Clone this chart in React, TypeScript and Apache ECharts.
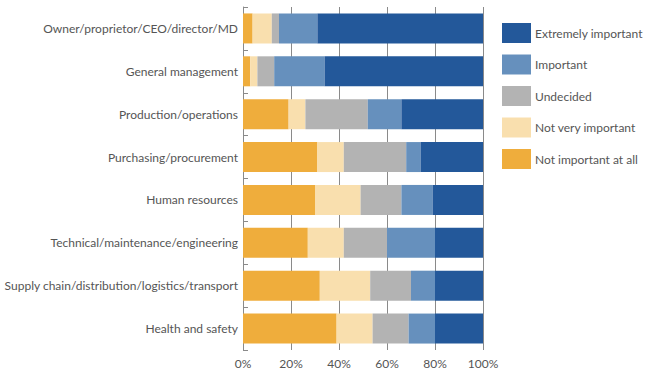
import React, { useEffect, useRef } from "react";
import * as echarts from "echarts";

const categories = [
  "Owner/proprietor/CEO/director/MD",
  "General management",
  "Production/operations",
  "Purchasing/procurement",
  "Human resources",
  "Technical/maintenance/engineering",
  "Supply chain/distribution/logistics/transport",
  "Health and safety",
];

const notImportantAtAll = [4, 3, 19, 31, 30, 27, 32, 39];
const notVeryImportant = [8, 3, 7, 11, 19, 15, 21, 15];
const undecided = [3, 7, 26, 26, 17, 18, 17, 15];
const important = [16, 21, 14, 6, 13, 20, 10, 11];
const extremelyImportant = [69, 66, 34, 26, 21, 20, 20, 20];

const xTicks = [0, 20, 40, 60, 80, 100];

const FONT = "Lato";

export default function App() {
  const ref = useRef<HTMLDivElement>(null);
  useEffect(() => {
    const chart = echarts.init(ref.current!, null, { renderer: "svg" });
    const seriesDefs = [
      { name: "Not important at all", data: notImportantAtAll, color: "#efad3c" },
      { name: "Not very important", data: notVeryImportant, color: "#f9dfae" },
      { name: "Undecided", data: undecided, color: "#b3b3b3" },
      { name: "Important", data: important, color: "#6690bd" },
      { name: "Extremely important", data: extremelyImportant, color: "#23589a" },
    ];
    chart.setOption({
      animation: false,
      textStyle: { fontFamily: FONT },
      grid: {
        left: 243,
        right: 167,
        top: 7,
        bottom: 20,
        containLabel: false,
        outerBoundsMode: "none",
      },
      legend: {
        orient: "vertical",
        left: 502,
        top: 23,
        padding: 0,
        itemWidth: 29,
        itemHeight: 20,
        itemGap: 11.5,
        icon: "rect",
        data: seriesDefs.map((s) => s.name).reverse(),
        textStyle: { fontFamily: FONT, fontSize: 12, color: "#555", padding: [0, 0, 0, -1] },
      },
      xAxis: {
        type: "value",
        min: 0,
        max: 100,
        interval: 20,
        axisLine: { show: false },
        axisTick: { show: false },
        axisLabel: {
          formatter: (v: number) => (xTicks.includes(v) ? v + "%" : ""),
          color: "#555",
          fontFamily: FONT,
          fontSize: 12,
          margin: 7,
        },
        splitLine: { show: true, lineStyle: { color: "#8a8a8a", width: 1 } },
      },
      yAxis: {
        type: "category",
        data: categories,
        inverse: true,
        axisLine: { show: true, lineStyle: { color: "#8a8a8a" } },
        axisTick: { show: true, inside: true, length: 5, lineStyle: { color: "#8a8a8a" } },
        axisLabel: { color: "#555", fontFamily: FONT, fontSize: 12, margin: 5 },
      },
      series: seriesDefs.map((s) => ({
        name: s.name,
        type: "bar",
        stack: "total",
        data: s.data,
        barWidth: 30,
        itemStyle: { color: s.color },
      })),
    });
    return () => chart.dispose();
  }, []);
  return <div ref={ref} style={{ width: 650, height: 370, position: "absolute", left: 0, top: 0 }} />;
}
